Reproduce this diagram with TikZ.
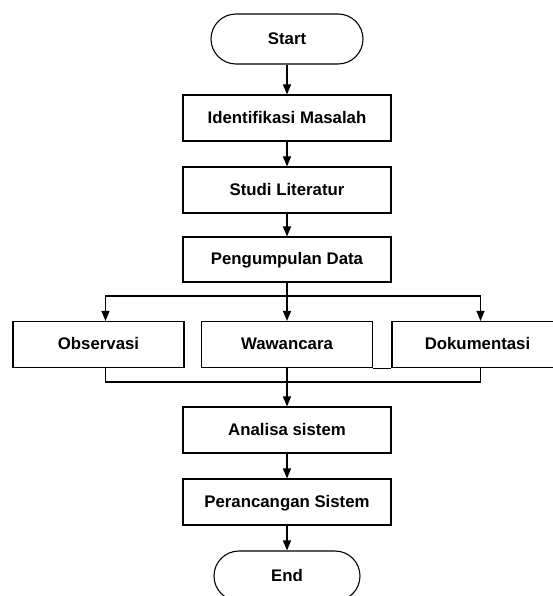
\documentclass[tikz,border=0pt]{standalone}
\usepackage{fontspec}
\setmainfont{Liberation Sans}
\usetikzlibrary{arrows.meta,positioning}

\tikzset{
  box/.style={draw, line width=1.1pt, minimum width=208pt, minimum height=46pt,
    inner sep=0pt, text height=12pt, text depth=1.5pt,
    font=\fontsize{16.8}{19}\selectfont\bfseries},
  smallbox/.style={box, minimum width=171pt},
  term/.style={box, rounded corners=25pt, minimum height=50pt},
  flow/.style={-{Triangle[width=8pt,length=10pt]}, line width=1.1pt},
  link/.style={line width=1.1pt}
}

\begin{document}
\begin{tikzpicture}[x=1pt, y=-1pt]
  \useasboundingbox (0,0) rectangle (552,596);
  \node[term, minimum width=152pt] (start) at (287,39) {Start};
  \node[box] (ident) at (287,118) {Identifikasi Masalah};
  \node[box] (studi) at (287,190) {Studi Literatur};
  \node[box, minimum height=45pt] (kumpul) at (287,259.5) {Pengumpulan Data};
  \node[smallbox] (obs) at (98.5,344.5) {Observasi};
  \node[smallbox] (waw) at (287,344.5) {Wawancara};
  \node[smallbox] (dok) at (477.5,344.5) {Dokumentasi};
  \node[box] (analisa) at (287,430) {Analisa sistem};
  \node[box] (rancang) at (287,502) {Perancangan Sistem};
  \node[term, minimum width=146pt] (end) at (287,576) {End};
  \coordinate (split) at (287,296);
  \coordinate (join) at (287,382);

\path[flow]
  (start) edge (ident)
  (ident) edge (studi)
  (studi) edge (kumpul)
  (split) edge (waw)
  (waw) edge (analisa)
  (analisa) edge (rancang)
  (rancang) edge (end);
\draw[link] (kumpul) -- (split);
\draw[flow] (split) -| ([xshift=7pt]obs.north);
\draw[flow] (split) -| ([xshift=3pt]dok.north);
\draw[link] ([xshift=7pt]obs.south) |- (join);
\draw[link] ([xshift=3pt]dok.south) |- (join);
\draw[link] (waw.south east) -- (dok.south west);
\end{tikzpicture}
\end{document}
